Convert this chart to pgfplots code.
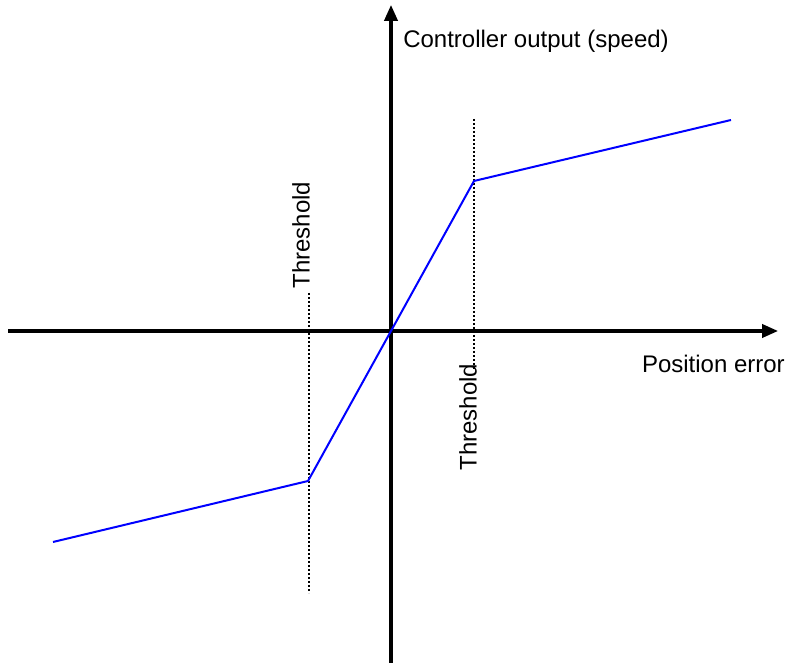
\documentclass[border=0pt]{standalone}
\usepackage{fontspec}
\setmainfont{Liberation Sans}
\usepackage{pgfplots}
\pgfplotsset{compat=1.18}
\usetikzlibrary{arrows.meta}
\definecolor{ctrlblue}{HTML}{0000FF}

\begin{document}
\begin{tikzpicture}
\begin{axis}[
    x=0.75pt, y=0.75pt,
    xmin=-391, xmax=394,
    ymin=-335, ymax=331,
    hide axis,
    clip=false,
]
% axes with arrow heads
\addplot[black, line width=2.3pt, -{Triangle[length=12pt,width=10pt]}] coordinates {(-383,0) (387,0)};
\addplot[black, line width=2.3pt, -{Triangle[length=12pt,width=10pt]}] coordinates {(0,-332) (0,326)};
% threshold markers
\addplot[black, line width=2pt, dash pattern=on 1.6pt off 1.4pt] coordinates {(-82,38) (-82,-262)};
\addplot[black, line width=2pt, dash pattern=on 1.6pt off 1.4pt] coordinates {(83,212) (83,-39)};
% controller characteristic
\addplot[ctrlblue, line width=1.5pt] coordinates {(-338,-211) (-83,-150) (0,0) (83,150) (340,211)};
\node[anchor=west, inner sep=0pt, font=\fontsize{18}{21}\selectfont] at (axis cs:12,290) {Controller output (speed)};
\node[anchor=east, inner sep=0pt, font=\fontsize{18}{21}\selectfont] at (axis cs:394,-33) {Position error};
\node[anchor=west, rotate=90, font=\fontsize{18}{21}\selectfont, inner sep=1pt] at (axis cs:-90,41) {Threshold};
\node[anchor=west, rotate=90, font=\fontsize{18}{21}\selectfont, inner sep=1pt] at (axis cs:77,-141) {Threshold};
\end{axis}
\pgfresetboundingbox
\useasboundingbox (current axis.south west) rectangle (current axis.north east);
\end{tikzpicture}
\end{document}
